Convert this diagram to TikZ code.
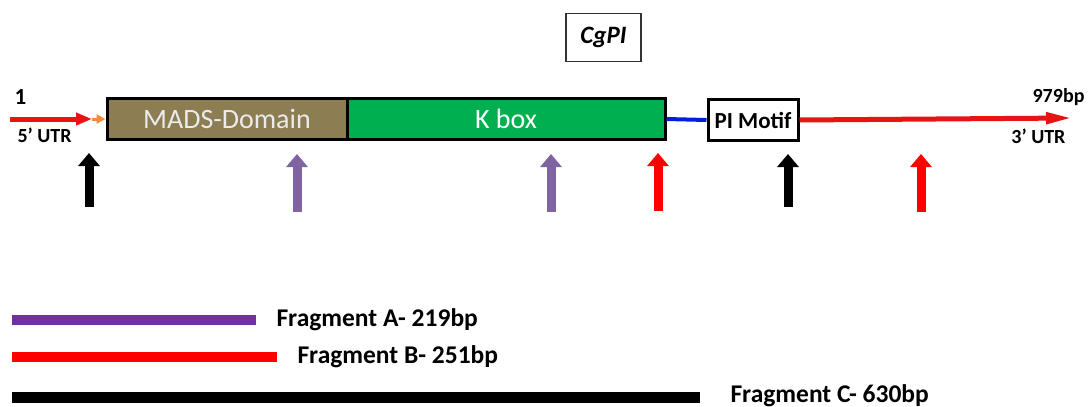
\documentclass[tikz,border=0pt]{standalone}
\usepackage{fontspec}
\setmainfont{Carlito}
\usetikzlibrary{arrows.meta}

\definecolor{madsolive}{RGB}{140,126,82}
\definecolor{kgreen}{RGB}{0,176,80}
\definecolor{markpurple}{RGB}{128,100,162}
\definecolor{fragpurple}{RGB}{112,48,160}
\definecolor{utrred}{RGB}{230,20,20}
\definecolor{tiporange}{RGB}{240,140,60}
\definecolor{linkblue}{RGB}{0,30,220}

\tikzset{
  genebox/.style={draw=black, line width=3pt, minimum height=41pt, inner sep=0pt,
    font=\fontsize{28}{30}\selectfont},
  site/.style={line width=9pt, -{Triangle[width=21pt,length=13pt]}},
  fragbar/.style={line width=10pt, line cap=butt, rounded corners=2pt},
  fraglabel/.style={anchor=west, font=\fontsize{25.5}{28}\selectfont\bfseries},
  endlabel/.style={font=\fontsize{20}{24}\selectfont\bfseries},
}

\begin{document}
\begin{tikzpicture}[x=1pt,y=-1pt]
  \useasboundingbox[fill=white] (0,0) rectangle (1088,407);

  % gene title
  \node[draw=black!80, line width=1.5pt, minimum width=75pt, minimum height=48pt,
        font=\fontsize{25}{28}\selectfont\bfseries\itshape] (title) at (603.5,37.5) {CgPI};

  % domains
  \node[genebox, fill=madsolive, text=white!92!black, minimum width=240pt] (mads) at (227,119) {MADS-Domain};
  \node[genebox, fill=kgreen, text=white, minimum width=318pt] (kbox) at (506,119) {K box};
  \node[genebox, fill=white, minimum width=90pt, font=\fontsize{23}{26}\selectfont\bfseries] (pimotif) at (753,120) {PI Motif};

  % untranslated regions and linker
  \coordinate (utr5start) at (10,119);
  \coordinate (utr5tip) at (92,119);
  \coordinate (utr3end) at (1072,118);
  \draw[utrred, line width=5pt, -{Triangle[width=12pt,length=16pt]}] (utr5start) -- (utr5tip);
  \draw[tiporange, line width=3pt, -{Triangle[width=9pt,length=9pt]}] (utr5tip) -- (mads.west);
  \draw[linkblue, line width=4pt] (kbox.east) -- (pimotif.west);
  \draw[utrred, line width=5pt, -{Triangle[width=11pt,length=26pt]}] (pimotif.east) -- (utr3end);

  % sequence labels
  \node[endlabel, anchor=west, font=\fontsize{23}{26}\selectfont\bfseries] (one) at (11,97) {1};
  \node[endlabel, anchor=west] (utr5) at (14,135) {5’ UTR};
  \node[endlabel, anchor=east] (len) at (1088,97) {979bp};
  \node[endlabel, anchor=east] (utr3) at (1069,136) {3’ UTR};

  % primer sites
  \coordinate (s1a) at (89,207);  \coordinate (s1b) at (89,153);
  \coordinate (s2a) at (297,212); \coordinate (s2b) at (297,154);
  \coordinate (s3a) at (551,212); \coordinate (s3b) at (551,154);
  \coordinate (s4a) at (658,211); \coordinate (s4b) at (658,153);
  \coordinate (s5a) at (788,207); \coordinate (s5b) at (788,154);
  \coordinate (s6a) at (921,212); \coordinate (s6b) at (921,154);
  \draw[site, black] (s1a) -- (s1b);
  \draw[site, markpurple] (s2a) -- (s2b);
  \draw[site, markpurple] (s3a) -- (s3b);
  \draw[site, red] (s4a) -- (s4b);
  \draw[site, black] (s5a) -- (s5b);
  \draw[site, red] (s6a) -- (s6b);

  % amplified fragments
  \coordinate (fa1) at (12,320); \coordinate (fa2) at (256,320);
  \coordinate (fb1) at (12,357); \coordinate (fb2) at (277,357);
  \coordinate (fc1) at (12,397); \coordinate (fc2) at (700,397);
  \draw[fragbar, fragpurple] (fa1) -- (fa2);
  \draw[fragbar, red] (fb1) -- (fb2);
  \draw[fragbar, black, line width=11pt] (fc1) -- (fc2);
  \node[fraglabel] (la) at (273,320) {Fragment A- 219bp};
  \node[fraglabel] (lb) at (294,357) {Fragment B- 251bp};
  \node[fraglabel] (lc) at (727,396) {Fragment C- 630bp};
\end{tikzpicture}
\end{document}
